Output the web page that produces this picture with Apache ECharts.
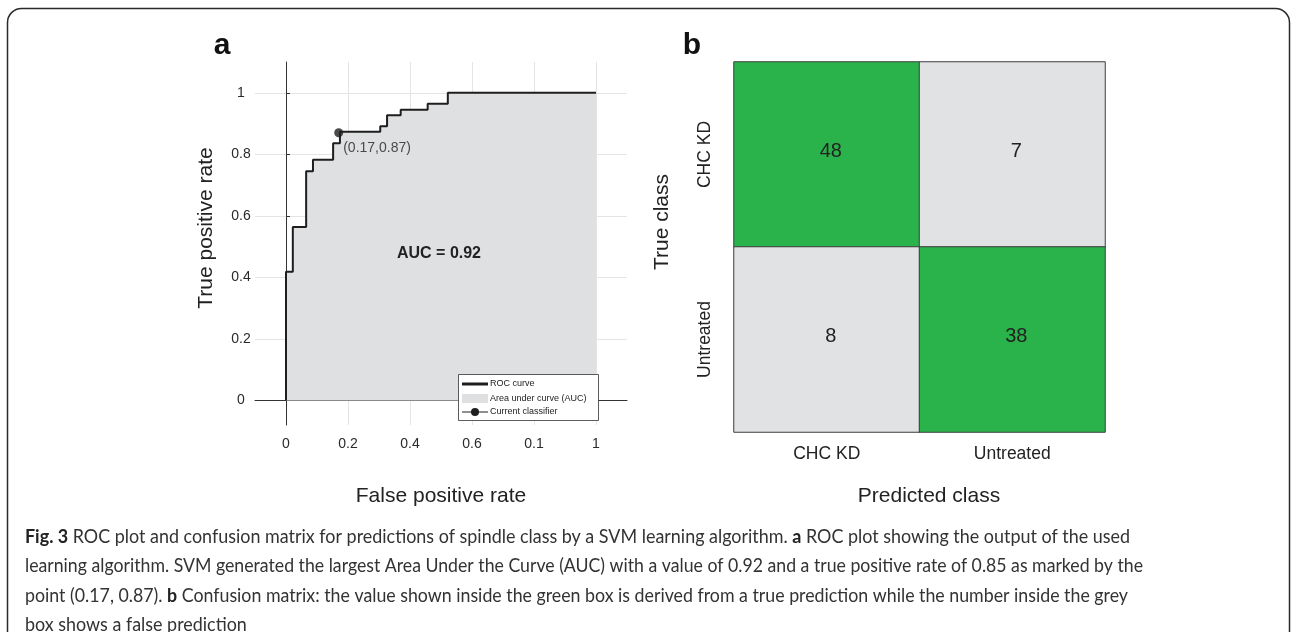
<!DOCTYPE html>
<html>
<head>
<meta charset="utf-8">
<title>ROC plot and confusion matrix</title>
<script src="https://cdn.jsdelivr.net/npm/echarts@6/dist/echarts.min.js"></script>
<style>
  html, body { margin: 0; padding: 0; background: #ffffff; }
  #main { width: 1292px; height: 632px; }
</style>
</head>
<body>
<div id="main"></div>
<script>
// ROC curve, corners (false positive rate / true positive rate)
var fprData = [0, 0, 0.022, 0.065, 0.087, 0.152, 0.174, 0.304, 0.326, 0.37, 0.457, 0.522, 1]
var tprData = [0, 0.418, 0.564, 0.745, 0.782, 0.836, 0.873, 0.891, 0.927, 0.945, 0.964, 1, 1]
var currentPoint = [0.17, 0.87]
var aucValue = 0.92
var rocTickValues = [0, 0.2, 0.4, 0.6, 0.8, 1]
var xTickLabels = ['0', '0.2', '0.4', '0.6', '0.1', '1'] // as printed in the figure
var yTickLabels = ['0', '0.2', '0.4', '0.6', '0.8', '1']

// confusion matrix, panel b
var classNames = ['CHC KD', 'Untreated']
var rowChcKd = [48, 7]      // true CHC KD -> predicted CHC KD, Untreated
var rowUntreated = [8, 38]  // true Untreated -> predicted CHC KD, Untreated

var captionLines = [
  '{b|Fig. 3} ROC plot and confusion matrix for predictions of spindle class by a SVM learning algorithm. {b|a} ROC plot showing the output of the used',
  'learning algorithm. SVM generated the largest Area Under the Curve (AUC) with a value of 0.92 and a true positive rate of 0.85 as marked by the',
  'point (0.17, 0.87). {b|b} Confusion matrix: the value shown inside the green box is derived from a true prediction while the number inside the grey',
  'box shows a false prediction'
]
// right edge of each caption line in the figure (last line is not justified)
var captionRight = [1130, 1143, 1128, null]

var FIG_FONT = '"Liberation Sans", Arial, Helvetica, sans-serif'
var CAP_FONT = 'Lato, "Open Sans", sans-serif'
var CAP_SIZE = 18.5
var CAP_LEFT = 25

var rocData = fprData.map(function (v, i) { return [v, tprData[i]] })
var cmData = []
;[rowChcKd, rowUntreated].forEach(function (row, t) {
  row.forEach(function (v, p) {
    cmData.push([p, t, v, p === t ? 1 : 0])
  })
})

// width of a caption line with its bold pieces
var measureCtx = document.createElement('canvas').getContext('2d')
function lineWidth(line) {
  var w = 0
  line.split(/(\{b\|[^}]*\})/).forEach(function (part) {
    if (!part) return
    var bold = part.indexOf('{b|') === 0
    var txt = bold ? part.slice(3, -1) : part
    measureCtx.font = (bold ? 'bold ' : '') + CAP_SIZE + 'px ' + CAP_FONT
    w += measureCtx.measureText(txt).width
  })
  return w
}
var baseScale = (captionRight[0] - CAP_LEFT) / lineWidth(captionLines[0])

var captionGraphics = captionLines.map(function (line, i) {
  var s = captionRight[i] ? (captionRight[i] - CAP_LEFT) / lineWidth(line) : baseScale
  return {
    type: 'text',
    x: CAP_LEFT,
    y: 537 + i * 29.3,
    scaleX: s,
    z: 100,
    style: {
      text: line,
      fill: '#333333',
      font: CAP_SIZE + 'px ' + CAP_FONT,
      textVerticalAlign: 'middle',
      rich: {
        b: { fontWeight: 'bold', fontSize: CAP_SIZE, fontFamily: CAP_FONT, fill: '#222222' }
      }
    }
  }
})

function tickLabel(labels) {
  return function (value) {
    for (var i = 0; i < rocTickValues.length; i++) {
      if (Math.abs(rocTickValues[i] - value) < 1e-6) return labels[i]
    }
    return ''
  }
}

var chart = echarts.init(document.getElementById('main'))

var option = {
  backgroundColor: '#ffffff',
  animation: false,
  textStyle: { fontFamily: FIG_FONT },
  grid: [
    { left: 255, top: 62, width: 372, height: 363, outerBoundsMode: 'none' },
    { left: 734, top: 62, width: 371, height: 370, outerBoundsMode: 'none' }
  ],
  xAxis: [
    {
      type: 'value',
      gridIndex: 0,
      min: -0.1,
      max: 1.1,
      axisLine: { show: true, lineStyle: { color: '#333333', width: 1 } },
      axisTick: { show: true, inside: true, length: 4, customValues: rocTickValues, lineStyle: { color: '#333333' } },
      axisLabel: {
        customValues: rocTickValues,
        formatter: tickLabel(xTickLabels),
        color: '#2a2a2a',
        fontSize: 14,
        margin: 12,
        fontFamily: FIG_FONT
      },
      splitLine: { show: true, lineStyle: { color: '#e4e4e4', width: 1 } }
    },
    {
      type: 'category',
      gridIndex: 1,
      data: classNames,
      axisLine: { show: false },
      axisTick: { show: false },
      axisLabel: { color: '#222222', fontSize: 17.5, margin: 13, fontFamily: FIG_FONT },
      splitLine: { show: false }
    }
  ],
  yAxis: [
    {
      type: 'value',
      gridIndex: 0,
      min: -0.08,
      max: 1.1,
      axisLine: { show: true, lineStyle: { color: '#333333', width: 1 } },
      axisTick: { show: true, inside: true, length: 4, customValues: rocTickValues, lineStyle: { color: '#333333' } },
      axisLabel: {
        customValues: rocTickValues,
        formatter: tickLabel(yTickLabels),
        color: '#2a2a2a',
        fontSize: 14,
        margin: 14,
        align: 'center',
        fontFamily: FIG_FONT
      },
      splitLine: { show: true, lineStyle: { color: '#e4e4e4', width: 1 } }
    },
    {
      type: 'category',
      gridIndex: 1,
      data: classNames,
      inverse: true,
      axisLine: { show: false },
      axisTick: { show: false },
      axisLabel: { color: '#222222', fontSize: 17.5, margin: 20, rotate: 90, fontFamily: FIG_FONT },
      splitLine: { show: false }
    }
  ],
  visualMap: {
    type: 'piecewise',
    show: false,
    seriesIndex: 2,
    dimension: 3,
    pieces: [
      { value: 1, color: '#2bb34b' },
      { value: 0, color: '#e1e2e4' }
    ]
  },
  series: [
    {
      name: 'ROC curve',
      type: 'line',
      xAxisIndex: 0,
      yAxisIndex: 0,
      data: rocData,
      step: 'end',
      symbol: 'none',
      lineStyle: { color: '#1e1e1e', width: 2 },
      areaStyle: { color: '#dfe0e2', opacity: 1 },
      z: 2
    },
    {
      name: 'Current classifier',
      type: 'scatter',
      xAxisIndex: 0,
      yAxisIndex: 0,
      data: [currentPoint],
      symbol: 'circle',
      symbolSize: 9,
      itemStyle: { color: '#1e1e1e' },
      label: {
        show: true,
        position: 'right',
        distance: 5,
        offset: [-5, 15],
        formatter: '(' + currentPoint[0] + ',' + currentPoint[1] + ')',
        color: '#222222',
        fontSize: 14,
        fontFamily: FIG_FONT
      },
      z: 4
    },
    {
      name: 'Confusion matrix',
      type: 'heatmap',
      xAxisIndex: 1,
      yAxisIndex: 1,
      data: cmData,
      itemStyle: { borderColor: '#3c3c3c', borderWidth: 1 },
      label: { show: true, color: '#222222', fontSize: 20, fontFamily: FIG_FONT, offset: [4, -3] },
      emphasis: { disabled: true }
    }
  ],
  graphic: [
    // figure frame
    {
      type: 'rect',
      shape: { x: 7.5, y: 8.5, width: 1282, height: 700, r: 14 },
      style: { fill: 'none', stroke: '#2a2a2a', lineWidth: 1.5 },
      silent: true,
      z: 100
    },
    { type: 'text', x: 222, y: 46, z: 100, style: { text: 'a', font: 'bold 30px ' + FIG_FONT, fill: '#111111', textAlign: 'center', textVerticalAlign: 'middle' } },
    { type: 'text', x: 692, y: 46, z: 100, style: { text: 'b', font: 'bold 30px ' + FIG_FONT, fill: '#111111', textAlign: 'center', textVerticalAlign: 'middle' } },
    { type: 'text', x: 206, y: 228, z: 100, rotation: Math.PI / 2, style: { text: 'True positive rate', font: '21px ' + FIG_FONT, fill: '#222222', textAlign: 'center', textVerticalAlign: 'middle' } },
    { type: 'text', x: 441, y: 496, z: 100, style: { text: 'False positive rate', font: '21px ' + FIG_FONT, fill: '#222222', textAlign: 'center', textVerticalAlign: 'middle' } },
    { type: 'text', x: 662, y: 222, z: 100, rotation: Math.PI / 2, style: { text: 'True class', font: '21px ' + FIG_FONT, fill: '#222222', textAlign: 'center', textVerticalAlign: 'middle' } },
    { type: 'text', x: 929, y: 496, z: 100, style: { text: 'Predicted class', font: '21px ' + FIG_FONT, fill: '#222222', textAlign: 'center', textVerticalAlign: 'middle' } },
    { type: 'text', x: 439, y: 254, z: 100, style: { text: 'AUC = ' + aucValue.toFixed(2), font: 'bold 16px ' + FIG_FONT, fill: '#222222', textAlign: 'center', textVerticalAlign: 'middle' } },
    // legend box of panel a
    { type: 'rect', z: 100, shape: { x: 458.5, y: 374.5, width: 140, height: 46 }, style: { fill: '#ffffff', stroke: '#333333', lineWidth: 0.8 } },
    { type: 'line', z: 101, shape: { x1: 462, y1: 384, x2: 488, y2: 384 }, style: { stroke: '#1e1e1e', lineWidth: 3 } },
    { type: 'rect', z: 101, shape: { x: 462, y: 394, width: 26, height: 9 }, style: { fill: '#dfe0e2' } },
    { type: 'line', z: 101, shape: { x1: 462, y1: 412, x2: 488, y2: 412 }, style: { stroke: '#1e1e1e', lineWidth: 1 } },
    { type: 'circle', z: 101, shape: { cx: 475, cy: 412, r: 4 }, style: { fill: '#1e1e1e' } },
    { type: 'text', z: 101, x: 490, y: 384, style: { text: 'ROC curve', font: '9px ' + FIG_FONT, fill: '#222222', textVerticalAlign: 'middle' } },
    { type: 'text', x: 490, y: 398.5, z: 101, style: { text: 'Area under curve (AUC)', font: '9px ' + FIG_FONT, fill: '#222222', textVerticalAlign: 'middle' } },
    { type: 'text', x: 490, y: 412, z: 101, style: { text: 'Current classifier', font: '9px ' + FIG_FONT, fill: '#222222', textVerticalAlign: 'middle' } }
  ].concat(captionGraphics)
}

chart.setOption(option)
</script>
</body>
</html>
